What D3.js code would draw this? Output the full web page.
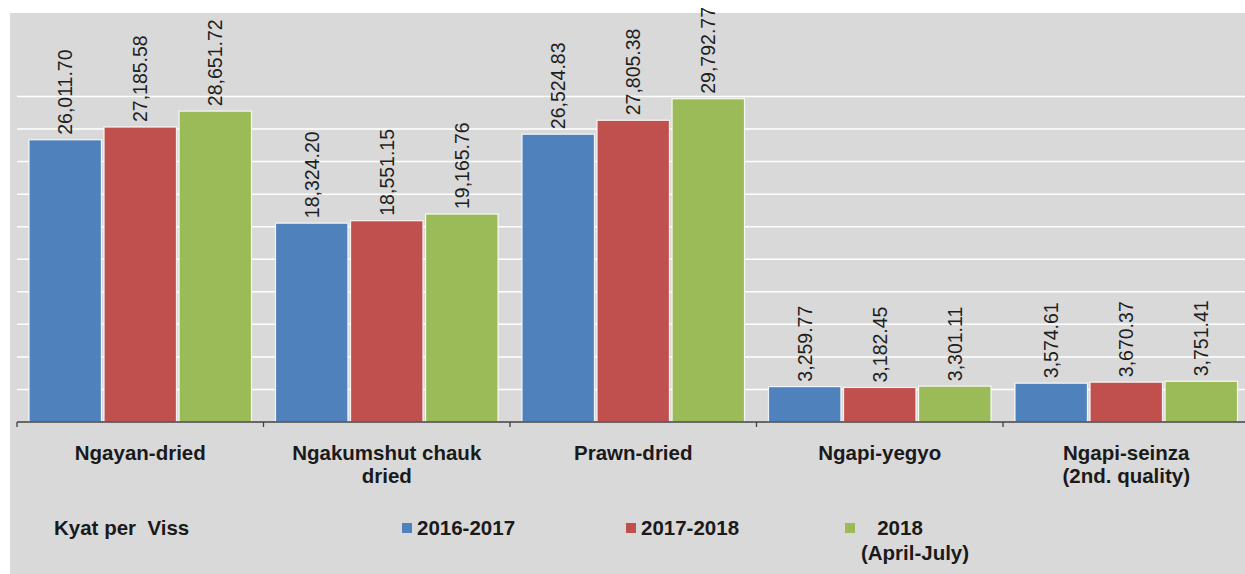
<!DOCTYPE html>
<html>
<head>
<meta charset="utf-8">
<script src="https://cdn.jsdelivr.net/npm/d3@7"></script>
<style>
  html, body { margin: 0; padding: 0; background: #ffffff; }
  svg { display: block; font-family: "Liberation Sans", Arial, sans-serif; }
</style>
</head>
<body>
<svg id="chart" width="1245" height="574"></svg>
<script>
// Dried fish and fish paste prices, Kyat per Viss
const categories = [
  ["Ngayan-dried"],
  ["Ngakumshut chauk", "dried"],
  ["Prawn-dried"],
  ["Ngapi-yegyo"],
  ["Ngapi-seinza", "(2nd. quality)"]
];
const seriesNames = ["2016-2017", "2017-2018", "2018 (April-July)"];
const values2016 = [26011.70, 18324.20, 26524.83, 3259.77, 3574.61];
const values2017 = [27185.58, 18551.15, 27805.38, 3182.45, 3670.37];
const values2018 = [28651.72, 19165.76, 29792.77, 3301.11, 3751.41];
const gridTicks = [3000, 6000, 9000, 12000, 15000, 18000, 21000, 24000, 27000, 30000];
const unitLabel = "Kyat per  Viss";

const colors = ["#4F81BD", "#C0504D", "#9BBB59"];
const seriesValues = [values2016, values2017, values2018];

const svg = d3.select("#chart");
const W = 1245, H = 574;

// chart background
svg.append("rect")
  .attr("x", 10).attr("y", 13)
  .attr("width", W - 10).attr("height", H - 13)
  .attr("fill", "#D9D9D9");

const catKeys = categories.map(c => c.join(" "));
const x0 = d3.scaleBand()
  .domain(catKeys)
  .range([17, 17 + 246.5 * catKeys.length])
  .padding(0);

const x1 = d3.scaleBand()
  .domain(seriesNames)
  .range([0, x0.bandwidth()])
  .paddingInner(0.035)
  .paddingOuter(0.16);

const y = d3.scaleLinear()
  .domain([0, 30000])
  .range([422, 96.5]);

// horizontal gridlines
svg.append("g")
  .selectAll("line")
  .data(gridTicks)
  .join("line")
  .attr("x1", 17).attr("x2", W)
  .attr("y1", d => y(d)).attr("y2", d => y(d))
  .attr("stroke", "#ffffff")
  .attr("stroke-width", 1.5);

// bars
const groups = svg.append("g")
  .selectAll("g")
  .data(catKeys)
  .join("g")
  .attr("transform", d => `translate(${x0(d)},0)`);

const fmt = d3.format(",.2f");

groups.each(function(cat, ci) {
  const g = d3.select(this);
  const rows = seriesNames.map((s, si) => ({ s, si, v: seriesValues[si][ci] }));
  g.selectAll("rect")
    .data(rows)
    .join("rect")
    .attr("x", d => x1(d.s))
    .attr("width", x1.bandwidth())
    .attr("y", d => y(d.v))
    .attr("height", d => y(0) - y(d.v))
    .attr("fill", d => colors[d.si])
    .attr("stroke", "#ffffff")
    .attr("stroke-opacity", 0.85)
    .attr("stroke-width", 1.2);

  g.selectAll("text")
    .data(rows)
    .join("text")
    .attr("transform", d => `translate(${x1(d.s) + x1.bandwidth() / 2},${y(d.v) - 5}) rotate(-90)`)
    .attr("dy", "0.36em")
    .attr("text-anchor", "start")
    .attr("font-size", "19.5px")
    .attr("fill", "#1f1f1f")
    .text(d => fmt(d.v));
});

// x axis
const xAxis = d3.axisBottom(x0).tickValues([]).tickSizeOuter(0);
const axisG = svg.append("g").attr("transform", `translate(0,${y(0)})`);
axisG.append("line")
  .attr("x1", 17).attr("x2", W)
  .attr("y1", 0).attr("y2", 0)
  .attr("stroke", "#404040").attr("stroke-width", 1.3);
axisG.selectAll("line.tick")
  .data(catKeys.map(k => x0(k)).concat([x0.range()[1]]))
  .join("line")
  .attr("class", "tick")
  .attr("x1", d => d).attr("x2", d => d)
  .attr("y1", 0).attr("y2", 5)
  .attr("stroke", "#404040").attr("stroke-width", 1.3);

// category labels
svg.append("g")
  .selectAll("text")
  .data(categories)
  .join("text")
  .attr("x", (d, i) => x0(catKeys[i]) + x0.bandwidth() / 2)
  .attr("y", 460)
  .attr("text-anchor", "middle")
  .attr("font-size", "20.5px")
  .attr("font-weight", "bold")
  .attr("fill", "#1a1a1a")
  .each(function(d) {
    const t = d3.select(this);
    d.forEach((line, li) => {
      t.append("tspan")
        .attr("x", t.attr("x"))
        .attr("dy", li === 0 ? 0 : 23)
        .text(line);
    });
  });

// unit label
svg.append("text")
  .attr("x", 54).attr("y", 535)
  .attr("font-size", "20.5px")
  .attr("font-weight", "bold")
  .attr("fill", "#1a1a1a")
  .attr("xml:space", "preserve")
  .style("white-space", "pre")
  .text(unitLabel);

// legend
const legendX = [402, 626, 845];
const legend = svg.append("g")
  .selectAll("g")
  .data(seriesNames)
  .join("g");

legend.append("rect")
  .attr("x", (d, i) => legendX[i])
  .attr("y", 523)
  .attr("width", 10).attr("height", 10)
  .attr("fill", (d, i) => colors[i]);

legend.append("text")
  .attr("font-size", "20.5px")
  .attr("font-weight", "bold")
  .attr("fill", "#1a1a1a")
  .each(function(d, i) {
    const t = d3.select(this);
    if (i < 2) {
      t.attr("x", legendX[i] + 15).attr("y", 535).text(d);
    } else {
      const parts = ["2018", "(April-July)"];
      t.append("tspan").attr("x", 900).attr("y", 535).attr("text-anchor", "middle").text(parts[0]);
      t.append("tspan").attr("x", 915).attr("y", 560).attr("text-anchor", "middle").text(parts[1]);
    }
  });
</script>
</body>
</html>
